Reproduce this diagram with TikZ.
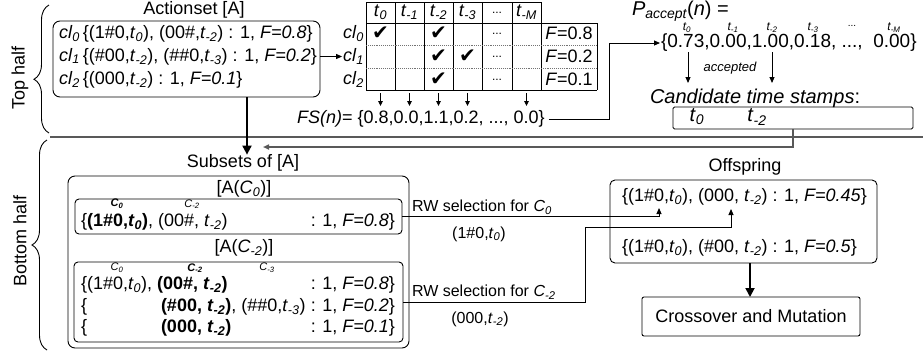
\documentclass[tikz,border=0pt]{standalone}
\usepackage{fontspec}
\usepackage{graphicx}
\setmainfont{Liberation Sans}
\newfontfamily\symfont{DejaVu Sans}
\usetikzlibrary{arrows.meta,decorations.pathreplacing,calc}
\newcommand\fz[1]{\fontsize{#1}{#1}\selectfont}
\newcommand\sbs[1]{\textsubscript{\itshape #1}}
\newcommand\tv[1]{\textit{t}\sbs{#1}}
\newcommand\clv[1]{\textit{cl}\sbs{#1}}
\begin{document}
\begin{tikzpicture}[x=1pt,y=-1pt,
  every node/.style={inner sep=0pt, outer sep=0pt, font=\fz{18}},
  rbox/.style={draw, rounded corners=7pt, line width=0.9pt},
  sbox/.style={draw, rounded corners=4pt, line width=0.9pt},
  arr/.style={-{Triangle[length=6pt,width=5pt]}, line width=0.9pt},
  bigarr/.style={-{Triangle[length=9pt,width=9pt]}, line width=1.8pt},
  grayline/.style={draw=black!65, line width=1.5pt},
  tline/.style={line width=0.9pt},
  dotline/.style={line width=0.9pt, densely dotted, draw=black!55},
  chk/.style={font=\symfont\fz{20}},
  dots/.style={font=\fz{12}},
  sm/.style={font=\fz{12}\itshape},
  brc/.style={decorate, decoration={brace, amplitude=15pt}, line width=0.9pt},
]
\useasboundingbox (0,0) rectangle (923,354);

% braces and half labels
\coordinate (tbA) at (49,133); \coordinate (tbB) at (49,5);
\draw[brc, decoration={aspect=0.42}] (tbA) -- (tbB);
\coordinate (bbA) at (47,350); \coordinate (bbB) at (47,140);
\draw[brc] (bbA) -- (bbB);
\node[rotate=90] (toplbl) at (20,78) {Top half};
\node[rotate=90] (botlbl) at (20,241) {Bottom half};

% Actionset
\node (asettitle) at (194,10) {Actionset [A]};
\node[rbox, minimum width=267pt, minimum height=76pt, anchor=north west] (aset) at (53,21) {};
\node[anchor=west] (r0) at (59,33.5) {\clv{0}\,\{(1\#0,\tv{0}), (00\#,\tv{-2}) : 1, \textit{F=0.8}\}};
\node[anchor=west] (r1) at (59,56.5) {\clv{1}\,\{(\#00,\tv{-2}), (\#\#0,\tv{-3}) : 1, \textit{F=0.2}\}};
\node[anchor=west] (r2) at (59,79.5) {\clv{2}\,\{(000,\tv{-2}) : 1, \textit{F=0.1}\}};

% table
\draw[tline] (366,2) -- (541,2);
\draw[tline] (366,23) -- (597,23);
\draw[tline] (366,90) -- (597,90);
\foreach \x in {366,395,424,453,482,512,541} \draw[tline] (\x,2) -- (\x,90);
\draw[tline] (597,23) -- (597,90);
\draw[dotline] (366,45) -- (597,45);
\draw[dotline] (366,68) -- (597,68);
\node (h1) at (380.5,12.5) {\tv{0}};
\node (h2) at (409.5,12.5) {\tv{-1}};
\node (h3) at (438.5,12.5) {\tv{-2}};
\node (h4) at (467.5,12.5) {\tv{-3}};
\node[dots] (h5) at (497,12.5) {...};
\node (h6) at (526.5,12.5) {\tv{-M}};
\node[anchor=east] (cl0) at (364,33.5) {\clv{0}};
\node[anchor=east] (cl1) at (364,56.5) {\clv{1}};
\node[anchor=east] (cl2) at (364,79.5) {\clv{2}};
\node[chk] (k01) at (380.5,33.5) {✔};
\node[chk] (k03) at (438.5,33.5) {✔};
\node[chk] (k13) at (438.5,56.5) {✔};
\node[chk] (k14) at (467.5,56.5) {✔};
\node[chk] (k23) at (438.5,79.5) {✔};
\node[dots] (d0) at (497,33.5) {...};
\node[dots] (d1) at (497,56.5) {...};
\node[dots] (d2) at (497,79.5) {...};
\node (f0) at (569,33.5) {\textit{F}=0.8};
\node (f1) at (569,56.5) {\textit{F}=0.2};
\node (f2) at (569,79.5) {\textit{F}=0.1};
\draw[arr] (aset.east |- cl1) -- ([xshift=-1pt]cl1.west);

% FS
\node[anchor=west] (fs) at (297,119) {\textit{FS(n)}= \{0.8,0.0,1.1,0.2, ..., 0.0\}};
\foreach \x/\n in {380.5/a,409.5/b,438.5/c,467.5/d,526.5/e} {
  \coordinate (tb\n) at (\x,93); \coordinate (fs\n) at (\x,106);
  \draw[-{Triangle[length=5pt,width=4.5pt]}, line width=0.9pt] (tb\n) -- (fs\n);
}

% P accept
\node[anchor=base west, font=\fz{20}] (plbl) at (632,15) {\textit{P}\sbs{accept}(\textit{n}) =};
\node[anchor=west, font=\fz{19}] (pv) at (661,43) {\{0.73,0.00,1.00,0.18, ...,\ \ 0.00\}};
\node[sm] (pt0) at (687,28) {t\sbs{0}};
\node[sm] (pt1) at (733,28) {t\sbs{-1}};
\node[sm] (pt2) at (772,28) {t\sbs{-2}};
\node[sm] (pt3) at (813,28) {t\sbs{-3}};
\node[font=\fz{10}] (pt4) at (852,26) {...};
\node[sm] (pt5) at (894,28) {t\sbs{-M}};
\coordinate (bend1) at (609,43);
\draw[arr] ([xshift=4pt]fs.east) -| (bend1) -- ([xshift=-1pt]pv.west);

\coordinate (ac1s) at (688,52); \coordinate (ac1e) at (688,83);
\coordinate (ac2s) at (772,52); \coordinate (ac2e) at (772,83);
\draw[arr] (ac1s) -- (ac1e);
\draw[arr] (ac2s) -- (ac2e);
\node[font=\fz{13}\itshape] (acc) at (730,68) {accepted};
\node[anchor=west, font=\fz{20}\itshape] (candlbl) at (650,98) {Candidate time stamps\upshape:};
\node[draw, tline, rounded corners=1.5pt, minimum width=240pt, minimum height=22pt, anchor=north west] (cand) at (673,107) {};
\node[font=\fz{20}] (ct0) at (697,117) {\tv{0}};
\node[font=\fz{20}] (ct2) at (757,117) {\tv{-2}};

% separator and return
\coordinate (sepL) at (50,137); \coordinate (sepR) at (923,137);
\draw[grayline] (sepL) -- (sepR);
\coordinate (ret1) at (793,147); \coordinate (ret2) at (263,147);
\draw[grayline, -{Triangle[length=6pt,width=5pt]}] (cand.south -| ret1) -- (ret1) -- (ret2);

% big arrow to subsets
\coordinate (ax) at (247,0);
\node (subs) at (243,163) {Subsets of [A]};
\draw[bigarr] (aset.south -| ax) -- (subs.north -| ax);

% subsets
\node[rbox, anchor=north west, minimum width=341pt, minimum height=172pt] (outer) at (68,176) {};
\node (ac0) at (244,189) {[A(\textit{C}\sbs{0})]};
\node[sbox, anchor=north west, minimum width=327pt, minimum height=35pt] (b1) at (75,199) {};
\node[font=\fz{11}\bfseries\itshape] (b1c0) at (117,204) {C\sbs{0}};
\node[font=\fz{11}\itshape] (b1c2) at (192,204) {C\sbs{-2}};
\node[anchor=west] (b1l) at (81,222) {\{\textbf{(1\#0,\tv{0})}, (00\#, \tv{-2})};
\node[anchor=east] (b1r) at (395,222) {: 1, \textit{F=0.8}\}};

\node (ac2) at (244,248) {[A(\textit{C}\sbs{-2})]};
\node[sbox, anchor=north west, minimum width=329pt, minimum height=80pt] (b2) at (74,262) {};
\node[font=\fz{11}\itshape] (b2c0) at (117,268) {C\sbs{0}};
\node[font=\fz{11}\bfseries\itshape] (b2c2) at (195,268) {C\sbs{-2}};
\node[font=\fz{11}\itshape] (b2c3) at (267,268) {C\sbs{-3}};
\node[anchor=west] (b2l1) at (81,285) {\{(1\#0,\tv{0}), \textbf{(00\#, \tv{-2})}};
\node[anchor=east] (b2r1) at (395,285) {: 1, \textit{F=0.8}\}};
\node[anchor=west] (b2l2a) at (81,307) {\{};
\node[anchor=west] (b2l2) at (161,307) {\textbf{(\#00, \tv{-2})}, (\#\#0,\tv{-3})};
\node[anchor=east] (b2r2) at (395,307) {: 1, \textit{F=0.2}\}};
\node[anchor=west] (b2l3a) at (81,328) {\{};
\node[anchor=west] (b2l3) at (161,328) {\textbf{(000, \tv{-2})}};
\node[anchor=east] (b2r3) at (395,328) {: 1, \textit{F=0.1}\}};

% RW selection
\node[anchor=west, font=\fz{16}] (rw0) at (412,207) {RW selection for \textit{C}\sbs{0}};
\node[font=\fz{16}] (rw0s) at (479,234) {(1\#0,\tv{0})};
\node[anchor=west, font=\fz{16}] (rw2) at (412,292) {RW selection for \textit{C}\sbs{-2}};
\node[font=\fz{16}] (rw2s) at (480,319) {(000,\tv{-2})};

% offspring
\node (offt) at (745,167) {Offspring};
\node[rbox, rounded corners=5pt, anchor=north west, minimum width=267pt, minimum height=83pt] (off) at (610,180) {};
\node[anchor=west] (o1) at (622,197) {\{(1\#0,\tv{0}), (000, \tv{-2}) : 1, \textit{F=0.45}\}};
\node[anchor=west] (o2) at (622,248) {\{(1\#0,\tv{0}), (\#00, \tv{-2}) : 1, \textit{F=0.5}\}};
\node[draw, tline, rounded corners=2pt, minimum width=218pt, minimum height=39pt, anchor=north west] (cm) at (642,297) {};
\node (cmt) at (cm.center) {Crossover and Mutation};
\coordinate (ox) at (750,0);
\draw[bigarr] (off.south -| ox) -- (cm.north -| ox);

\coordinate (k1) at (659,208);
\draw[arr] (b1.east) -| (k1);
\coordinate (k2) at (585,227); \coordinate (k3) at (731,209);
\draw[arr] (b2.east) -| (k2) -| (k3);
\end{tikzpicture}
\end{document}
